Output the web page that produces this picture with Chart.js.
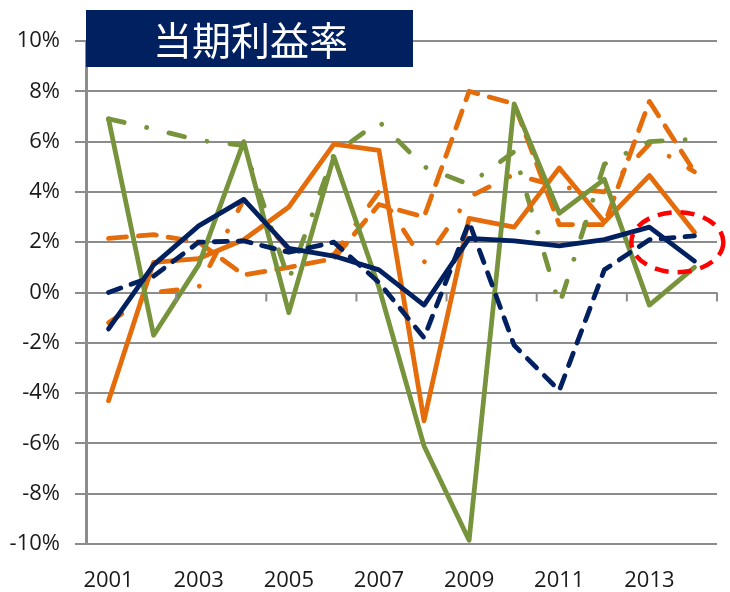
<!DOCTYPE html>
<html>
<head>
<meta charset="utf-8">
<script src="https://cdn.jsdelivr.net/npm/chart.js@4.4.0/dist/chart.umd.min.js"></script>
<style>
	html, body { margin: 0; padding: 0; background: #fff; }
	#wrap { width: 730px; height: 592px; }
</style>
</head>
<body>
<div id="wrap"><canvas id="chart" width="730" height="592" style="width:730px;height:592px"></canvas></div>
<script>
	// Categories (years) and tick labels
	const years = ['2001', '2002', '2003', '2004', '2005', '2006', '2007', '2008', '2009', '2010', '2011', '2012', '2013', '2014'];
	const yTicks = [-10, -8, -6, -4, -2, 0, 2, 4, 6, 8, 10];
	const titleText = '当期利益率';

	// Series values, %
	const navySolid   = [-1.45, 1.1, 2.65, 3.7, 1.75, 1.45, 0.9, -0.5, 2.15, 2.05, 1.85, 2.1, 2.6, 1.25];
	const navyDash    = [0.0, 0.65, 2.0, 2.05, 1.6, 2.0, 0.4, -1.8, 2.8, -2.1, -3.9, 0.9, 2.1, 2.25];
	const greenSolid  = [6.9, -1.7, 1.1, 6.0, -0.8, 5.4, 0.2, -6.1, -9.85, 7.5, 3.15, 4.5, -0.5, 1.0];
	const greenDashDot = [6.9, 6.5, 6.05, 5.85, 0.5, 5.5, 6.8, 5.0, 4.3, 5.6, -0.5, 5.1, 6.0, 6.1];
	const orangeSolid = [-4.3, 1.2, 1.35, 2.1, 3.4, 5.9, 5.65, -5.1, 2.95, 2.6, 4.95, 2.8, 4.65, 2.4];
	const orangeDash  = [2.15, 2.3, 2.0, 0.7, 1.0, 1.35, 3.5, 3.0, 8.0, 7.5, 2.7, 2.7, 7.6, 4.8];
	const orangeDashDot = [-1.2, 0.0, 0.2, 3.7, 1.7, 1.5, 4.0, 1.2, 3.8, 4.7, 4.2, 4.0, 5.9, 4.8];

	// Colors
	const navy = '#002060';
	const green = '#77933C';
	const orange = '#E46C0A';
	const gridGray = '#8c8c8c';
	const textColor = '#1a1a1a';

	const dashLong = [18, 12];
	const dashShort = [13, 11];
	const dashDot = [16, 23, 0.01, 23];

	function line(data, color, dash, order) {
		return {
			data: data,
			borderColor: color,
			borderWidth: 4.8,
			borderDash: dash,
			borderCapStyle: 'round',
			borderJoinStyle: 'round',
			pointRadius: 0,
			tension: 0,
			fill: false,
			order: order
		};
	}

	// Decorations: title box, x tick marks on the 0% line, red ellipse
	const extras = {
		id: 'extras',
		afterDraw(chart) {
			const ctx = chart.ctx;
			const x = chart.scales.x;
			const y = chart.scales.y;
			const area = chart.chartArea;
			ctx.save();

			// tick marks on the 0% line
			const y0 = y.getPixelForValue(0);
			ctx.strokeStyle = gridGray;
			ctx.lineWidth = 2;
			for (let i = 2; i <= years.length; i += 2) {
				let px = i < years.length
					? (x.getPixelForValue(i - 1) + x.getPixelForValue(i)) / 2
					: area.right;
				ctx.beginPath();
				ctx.moveTo(px, y0);
				ctx.lineTo(px, y0 + 9);
				ctx.stroke();
			}

			// title box
			ctx.fillStyle = navy;
			ctx.fillRect(area.left, 10, 327, 57);
			ctx.fillStyle = '#ffffff';
			ctx.font = '39px "Noto Sans CJK JP"';
			ctx.textAlign = 'center';
			ctx.textBaseline = 'middle';
			ctx.fillText(titleText, area.left + 327 / 2 + 1, 40);

			// red dashed ellipse
			const x12 = x.getPixelForValue(12);
			const x13 = x.getPixelForValue(13);
			const cx = x12 + 0.62 * (x13 - x12);
			const cy = y.getPixelForValue(2);
			ctx.strokeStyle = '#FF0000';
			ctx.lineWidth = 4.5;
			ctx.setLineDash([14, 9]);
			ctx.beginPath();
			ctx.ellipse(cx, cy, 46, 30, 0, 0, Math.PI * 2);
			ctx.stroke();
			ctx.restore();
		}
	};

	const labelFont = { family: '"Open Sans", sans-serif', size: 22 };

	const config = {
		type: 'line',
		data: {
			labels: years,
			datasets: [
				line(navySolid, navy, [], 1),
				line(navyDash, navy, dashShort, 2),
				line(greenSolid, green, [], 3),
				line(orangeSolid, orange, [], 4),
				line(greenDashDot, green, dashDot, 5),
				line(orangeDash, orange, dashLong, 6),
				line(orangeDashDot, orange, dashDot, 7)
			]
		},
		options: {
			responsive: false,
			animation: false,
			devicePixelRatio: 1,
			layout: {
				padding: { top: 41, right: 13, bottom: 0, left: 0 }
			},
			scales: {
				x: {
					type: 'category',
					offset: true,
					grid: { display: false, drawTicks: false },
					border: { display: false },
					ticks: {
						autoSkip: false,
						maxRotation: 0,
						padding: 24,
						color: textColor,
						font: labelFont,
						callback: function(v, i) {
							return i % 2 === 0 ? this.getLabelForValue(v) : '';
						}
					},
					afterFit: s => { s.height = 48; }
				},
				y: {
					min: -10,
					max: 10,
					afterBuildTicks: s => { s.ticks = yTicks.map(v => ({ value: v })); },
					ticks: {
						padding: 15,
						color: textColor,
						font: labelFont,
						callback: v => v + '%'
					},
					grid: { color: gridGray, lineWidth: 2, tickLength: 11 },
					border: { display: true, color: gridGray, width: 3 },
					afterFit: s => { s.width = 86; }
				}
			},
			plugins: {
				legend: { display: false },
				title: { display: false },
				tooltip: { enabled: false }
			}
		},
		plugins: [extras]
	};

	new Chart(document.getElementById('chart'), config);
</script>
</body>
</html>
